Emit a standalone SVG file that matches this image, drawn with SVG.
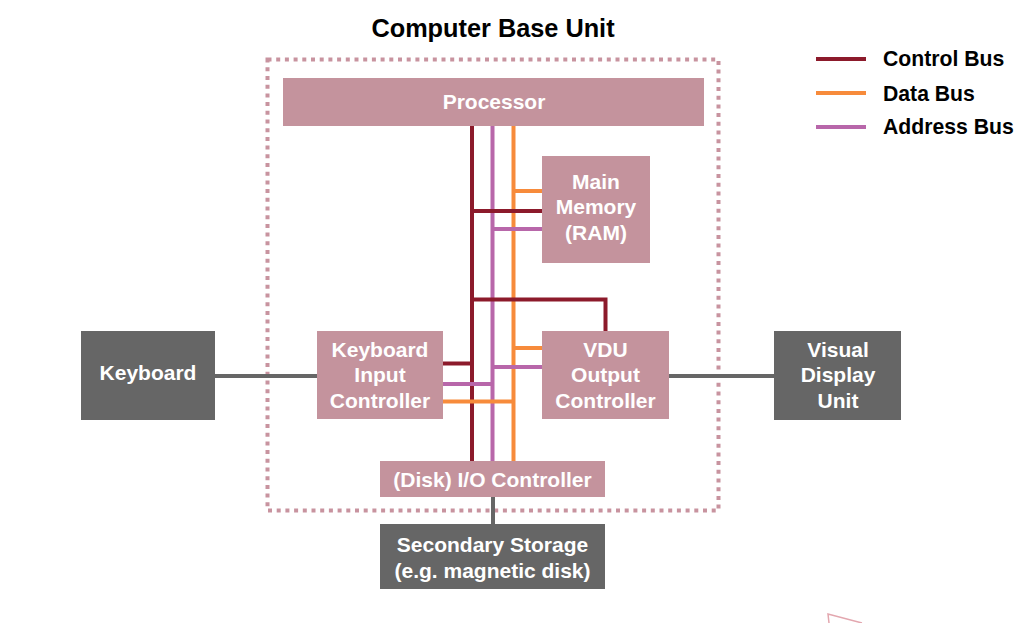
<svg xmlns="http://www.w3.org/2000/svg" width="1029" height="623" viewBox="0 0 1029 623">
<style>
  .inner { fill: #C4939D; }
  .outer { fill: #666666; }
  .lbl { font-family: "Liberation Sans", Arial, sans-serif; font-weight: bold; font-size: 21px; fill: #ffffff; text-anchor: middle; }
  .title { font-family: "Liberation Sans", Arial, sans-serif; font-weight: bold; font-size: 25.3px; fill: #000000; text-anchor: middle; }
  .leg { font-family: "Liberation Sans", Arial, sans-serif; font-weight: bold; font-size: 21.2px; fill: #000000; }
  .ctl { stroke: #8C1A2B; stroke-width: 4; fill: none; }
  .dat { stroke: #F78B3B; stroke-width: 4; fill: none; }
  .adr { stroke: #B867AA; stroke-width: 4; fill: none; }
  .gry { stroke: #666666; stroke-width: 4; fill: none; }
</style>
<rect width="1029" height="623" fill="#ffffff"/>

<text class="title" x="493" y="37">Computer Base Unit</text>

<g id="base-unit-border">
  <rect x="267.5" y="59.5" width="451" height="451" fill="none" stroke="#C8939F" stroke-width="4" stroke-dasharray="4 4.7"/>
</g>

<g id="connectors">
  <!-- external grey links -->
  <line class="gry" x1="215" y1="376" x2="317" y2="376"/>
  <line class="gry" x1="669" y1="376" x2="774" y2="376"/>
  <line class="gry" x1="493" y1="497" x2="493" y2="524"/>
  <!-- main bus verticals -->
  <line class="ctl" x1="472" y1="126" x2="472" y2="461"/>
  <line class="adr" x1="492.5" y1="126" x2="492.5" y2="461"/>
  <line class="dat" x1="513.5" y1="126" x2="513.5" y2="461"/>
  <!-- main memory branches -->
  <line class="dat" x1="513.5" y1="191" x2="542" y2="191"/>
  <line class="ctl" x1="472" y1="211" x2="542" y2="211"/>
  <line class="adr" x1="492.5" y1="229" x2="542" y2="229"/>
  <!-- VDU control branch -->
  <polyline class="ctl" points="472,299.5 605.5,299.5 605.5,331"/>
  <!-- VDU branches -->
  <line class="dat" x1="513.5" y1="348" x2="542" y2="348"/>
  <line class="adr" x1="492.5" y1="367" x2="542" y2="367"/>
  <!-- keyboard controller branches -->
  <line class="ctl" x1="443" y1="363.5" x2="472" y2="363.5"/>
  <line class="adr" x1="443" y1="384" x2="492.5" y2="384"/>
  <line class="dat" x1="443" y1="401.5" x2="513.5" y2="401.5"/>
</g>

<g id="processor">
  <rect class="inner" x="283" y="78" width="421" height="48"/>
  <text class="lbl" x="494" y="108.5">Processor</text>
</g>

<g id="main-memory">
  <rect class="inner" x="542" y="156" width="108" height="107"/>
  <text class="lbl" x="596" y="188.5">Main</text>
  <text class="lbl" x="596" y="214">Memory</text>
  <text class="lbl" x="596" y="239.5">(RAM)</text>
</g>

<g id="keyboard-input-controller">
  <rect class="inner" x="317" y="331" width="126" height="88"/>
  <text class="lbl" x="380" y="356.5">Keyboard</text>
  <text class="lbl" x="380" y="382">Input</text>
  <text class="lbl" x="380" y="407.5">Controller</text>
</g>

<g id="vdu-output-controller">
  <rect class="inner" x="542" y="331" width="127" height="88"/>
  <text class="lbl" x="605.5" y="356.5">VDU</text>
  <text class="lbl" x="605.5" y="382">Output</text>
  <text class="lbl" x="605.5" y="407.5">Controller</text>
</g>

<g id="disk-io-controller">
  <rect class="inner" x="380" y="461" width="225" height="36"/>
  <text class="lbl" x="492.5" y="486.5">(Disk) I/O Controller</text>
</g>

<g id="keyboard">
  <rect class="outer" x="81" y="331" width="134" height="89"/>
  <text class="lbl" x="148" y="380">Keyboard</text>
</g>

<g id="visual-display-unit">
  <rect class="outer" x="774" y="331" width="127" height="89"/>
  <text class="lbl" x="838" y="356.5">Visual</text>
  <text class="lbl" x="838" y="382">Display</text>
  <text class="lbl" x="838" y="407.5">Unit</text>
</g>

<g id="secondary-storage">
  <rect class="outer" x="380" y="524" width="225" height="65"/>
  <text class="lbl" x="492.5" y="551.5">Secondary Storage</text>
  <text class="lbl" x="492.5" y="577.5">(e.g. magnetic disk)</text>
</g>

<g id="legend">
  <line class="ctl" x1="816" y1="59" x2="866" y2="59" stroke-width="6"/>
  <line class="dat" x1="816" y1="93" x2="866" y2="93" stroke-width="6"/>
  <line class="adr" x1="816" y1="127" x2="866" y2="127" stroke-width="6"/>
  <text class="leg" x="883" y="66">Control Bus</text>
  <text class="leg" x="883" y="100.5">Data Bus</text>
  <text class="leg" x="883" y="134">Address Bus</text>
</g>

<g id="watermark-fragment">
  <polyline points="829,623 828,614 862,623" fill="none" stroke="#E3A7AF" stroke-width="1.5"/>
</g>
</svg>
